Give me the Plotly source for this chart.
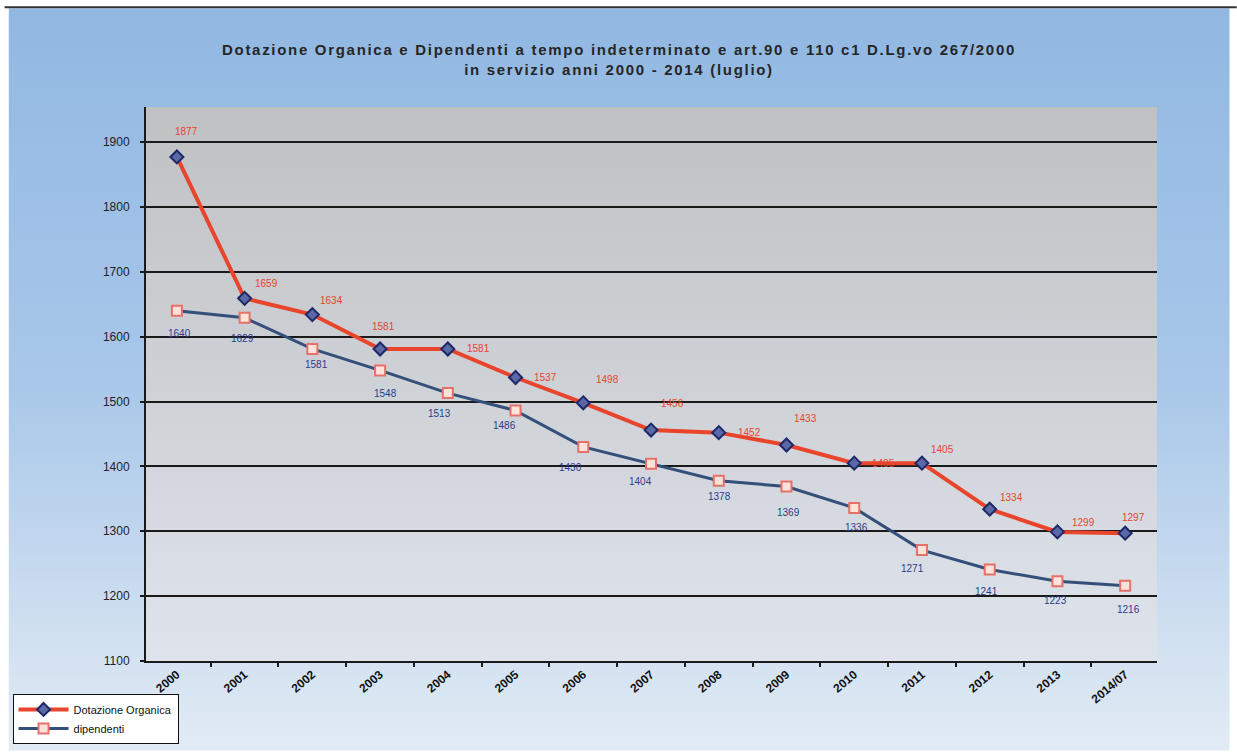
import base64
import plotly.graph_objects as go

# --- data -------------------------------------------------------------------
anni = ["2000", "2001", "2002", "2003", "2004", "2005", "2006", "2007",
        "2008", "2009", "2010", "2011", "2012", "2013", "2014/07"]
dotazione_organica = [1877, 1659, 1634, 1581, 1581, 1537, 1498, 1456,
                      1452, 1433, 1405, 1405, 1334, 1299, 1297]
dipendenti = [1640, 1629, 1581, 1548, 1513, 1486, 1430, 1404,
              1378, 1369, 1336, 1271, 1241, 1223, 1216]
y_ticks = [1100, 1200, 1300, 1400, 1500, 1600, 1700, 1800, 1900]

# --- label placement (pixel shifts from each point) -------------------------
dot_label_shift = [(10, 25), (22, 15), (19, 14), (3, 22), (31, 0), (30, 0),
                   (24, 23), (21, 27), (31, 0), (19, 26), (29, 0), (21, 14),
                   (22, 12), (26, 9), (8, 16)]
dip_label_shift = [(3, -23), (-2, -21), (4, -16), (5, -23), (-8, -20),
                   (-11, -15), (-13, -21), (-11, -18), (1, -16), (2, -26),
                   (2, -20), (-9, -18), (-3, -22), (-2, -19), (3, -24)]

# --- geometry ---------------------------------------------------------------
W, H = 1237, 756
PL, PR, PT, PB = 142, 1157, 107, 662
PW, PH = PR - PL, PB - PT

RED = "#e8452c"
NAVY = "#2d3a8e"
STEEL = "#34507a"


def gradient_uri(stops):
    parts = "".join(
        f'<stop offset="{o}" stop-color="{c}"/>' for o, c in stops)
    svg = ('<svg xmlns="http://www.w3.org/2000/svg" width="100" height="100" '
           'preserveAspectRatio="none"><defs><linearGradient id="g" x1="0" '
           f'y1="0" x2="0" y2="1">{parts}</linearGradient></defs>'
           '<rect width="100" height="100" fill="url(#g)"/></svg>')
    return "data:image/svg+xml;base64," + base64.b64encode(svg.encode()).decode()


def px_x(px):
    return (px - PL) / PW


def px_y(py):
    return (PB - py) / PH


fig = go.Figure()

fig.add_trace(go.Scatter(
    x=anni, y=dotazione_organica, name="Dotazione Organica",
    mode="lines+markers",
    line=dict(color=RED, width=4),
    marker=dict(symbol="diamond", size=10, color="#5b68a6",
                line=dict(color="#1c2868", width=2)),
))
fig.add_trace(go.Scatter(
    x=anni, y=dipendenti, name="dipendenti",
    mode="lines+markers",
    line=dict(color=STEEL, width=3),
    marker=dict(symbol="square", size=10, color="#fbe3da",
                line=dict(color="#e8706a", width=2)),
))

# value labels; x given as category index so "2000" etc. is not read as a number
annotations = []
for i, v in enumerate(dotazione_organica):
    dx, dy = dot_label_shift[i]
    annotations.append(dict(x=i, y=v, text=str(v), showarrow=False,
                            xshift=dx, yshift=dy,
                            font=dict(size=10, color=RED,
                                      family="Liberation Sans")))
for i, v in enumerate(dipendenti):
    dx, dy = dip_label_shift[i]
    annotations.append(dict(x=i, y=v, text=str(v), showarrow=False,
                            xshift=dx, yshift=dy,
                            font=dict(size=10, color=NAVY,
                                      family="Liberation Sans")))

annotations.append(dict(
    xref="paper", yref="paper", x=px_x(617), y=px_y(59),
    xanchor="center", yanchor="middle", showarrow=False,
    text=('<span style="letter-spacing:1.7px"><b>Dotazione Organica e '
          'Dipendenti a tempo indeterminato e art.90 e 110 c1 D.Lg.vo '
          '267/2000</b></span><br><span style="letter-spacing:1.7px"><b>'
          'in servizio anni 2000 - 2014 (luglio)</b></span>'),
    font=dict(size=15, color="#262626", family="Liberation Sans"),
))

images = [
    dict(source=gradient_uri([(0, "#91b8e2"), (0.5, "#a8c7e9"),
                              (1, "#e2ebf4")]),
         xref="paper", yref="paper", x=px_x(4), y=px_y(8),
         sizex=(1230 - 4) / PW, sizey=(752 - 8) / PH,
         xanchor="left", yanchor="top", sizing="stretch", layer="below"),
    dict(source=gradient_uri([(0, "#c0c1c3"), (0.5, "#ced1d6"),
                              (1, "#dfe4ec")]),
         xref="paper", yref="paper", x=0, y=1, sizex=1, sizey=1,
         xanchor="left", yanchor="top", sizing="stretch", layer="below"),
]

shapes = [
    dict(type="line", xref="paper", yref="paper",
         x0=px_x(0), x1=px_x(W), y0=px_y(7), y1=px_y(7),
         line=dict(color="#333333", width=2)),
]

fig.update_layout(
    width=W, height=H,
    margin=dict(l=PL, r=W - PR, t=PT, b=H - PB),
    paper_bgcolor="white",
    plot_bgcolor="rgba(0,0,0,0)",
    font=dict(family="Liberation Sans", color="#222222"),
    showlegend=True,
    legend=dict(
        x=px_x(8), y=px_y(695), xanchor="left", yanchor="top",
        bgcolor="white", bordercolor="#111111", borderwidth=1,
        font=dict(size=11, color="#111111"),
        itemwidth=50, tracegroupgap=4,
    ),
    annotations=annotations,
    images=images,
    shapes=shapes,
    xaxis=dict(
        type="category", range=[-0.456, 14.47],
        showgrid=False, showline=True, linecolor="#1a1a1a", linewidth=2,
        ticks="outside", tickson="boundaries", ticklen=4,
        tickcolor="#1a1a1a", tickwidth=2,
        tickangle=-40,
        tickfont=dict(size=12, color="#111111", family="Liberation Sans",
                      weight="bold"),
        zeroline=False,
    ),
    yaxis=dict(
        range=[1100, 1954], tickvals=y_ticks,
        showgrid=True, gridcolor="#1a1a1a", gridwidth=2,
        showline=True, linecolor="#1a1a1a", linewidth=2,
        ticks="outside", ticklen=4, tickcolor="#1a1a1a", tickwidth=2,
        ticklabelstandoff=8,
        tickfont=dict(size=12, color="#222222"),
        zeroline=False,
    ),
)

fig.write_html("out.html")
